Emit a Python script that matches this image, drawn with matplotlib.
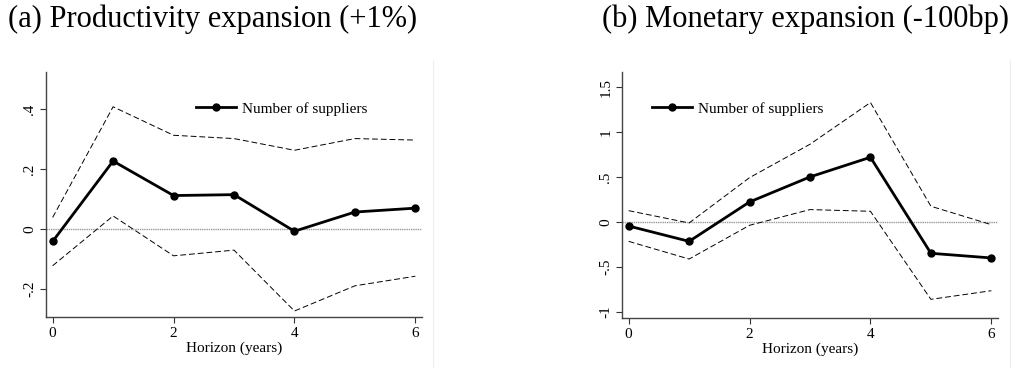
import matplotlib
matplotlib.use('Agg')
import matplotlib.pyplot as plt
from matplotlib.lines import Line2D

plt.rcParams['font.family'] = ['Liberation Serif', 'DejaVu Serif']

horizon = [0, 1, 2, 3, 4, 5, 6]

# (a) productivity expansion
prod_est = [-0.042, 0.226, 0.111, 0.114, -0.008, 0.056, 0.069]
prod_hi = [0.038, 0.407, 0.312, 0.301, 0.262, 0.301, 0.296]
prod_lo = [-0.123, 0.043, -0.090, -0.071, -0.274, -0.190, -0.158]

# (b) monetary expansion
mon_est = [-0.045, -0.216, 0.223, 0.502, 0.721, -0.349, -0.401]
mon_hi = [0.126, -0.011, 0.494, 0.866, 1.331, 0.175, -0.030]
mon_lo = [-0.216, -0.413, -0.037, 0.138, 0.119, -0.862, -0.766]

prod_yticks = [-0.2, 0, 0.2, 0.4]
prod_ylabels = ['-.2', '0', '.2', '.4']
mon_yticks = [-1, -0.5, 0, 0.5, 1, 1.5]
mon_ylabels = ['-1', '-.5', '0', '.5', '1', '1.5']
xticks = [0, 2, 4, 6]

titles = ['(a) Productivity expansion (+1%)', '(b) Monetary expansion (-100bp)']

W, H = 1014, 368
fig = plt.figure(figsize=(W / 100, H / 100), dpi=100)


def panel(rect, est, hi, lo, yticks, ylabels, ylim, legend_loc):
    ax = fig.add_axes(rect)
    ax.axhline(0, color='#999999', lw=1.0, ls=(0, (1, 0.6)), zorder=1)
    ax.plot(horizon, hi, color='black', lw=0.7, ls=(0, (6, 3)), zorder=2)
    ax.plot(horizon, lo, color='black', lw=0.7, ls=(0, (6, 3)), zorder=2)
    ax.plot(horizon, est, color='black', lw=2.0, marker='o', ms=5, zorder=3)
    ax.set_xlim(-0.11, 6.11)
    ax.set_ylim(*ylim)
    ax.set_xticks(xticks)
    ax.set_yticks(yticks)
    ax.set_yticklabels(ylabels, rotation=90, va='center')
    ax.tick_params(labelsize=11, length=4, width=0.8, color='#333333', pad=3)
    ax.set_xlabel('Horizon (years)', fontsize=11, labelpad=1)
    for s in ('top', 'right'):
        ax.spines[s].set_visible(False)
    for s in ('left', 'bottom'):
        ax.spines[s].set_linewidth(1.0)
        ax.spines[s].set_color('#444444')
    h = Line2D([], [], color='black', lw=2.0, marker='o', ms=5)
    ax.legend([h], ['Number of suppliers'], loc='upper left', bbox_to_anchor=legend_loc,
              frameon=False, fontsize=11, handlelength=2.6, handletextpad=0.4,
              borderpad=0, borderaxespad=0)
    return ax


def px_rect(x0, x1, y0, y1):
    return [x0 / W, 1 - y1 / H, (x1 - x0) / W, (y1 - y0) / H]


panel(px_rect(46, 422, 72, 317), prod_est, prod_hi, prod_lo,
      prod_yticks, prod_ylabels, (-0.294, 0.523), (0.40, 0.878))
panel(px_rect(622, 998, 72, 318), mon_est, mon_hi, mon_lo,
      mon_yticks, mon_ylabels, (-1.07, 1.671), (0.08, 0.878))

# faint frame edges of the panels
for x in (433, 1010):
    fig.add_artist(Line2D([x / W, x / W], [0, 1 - 60 / H], color='#eeeeee', lw=0.8))

fig.text(8 / W, 1 - 19 / H, titles[0], fontsize=22, va='center', ha='left')
fig.text(1009 / W, 1 - 19 / H, titles[1], fontsize=22, va='center', ha='right')

fig.savefig('out.png', dpi=100, facecolor='white')
